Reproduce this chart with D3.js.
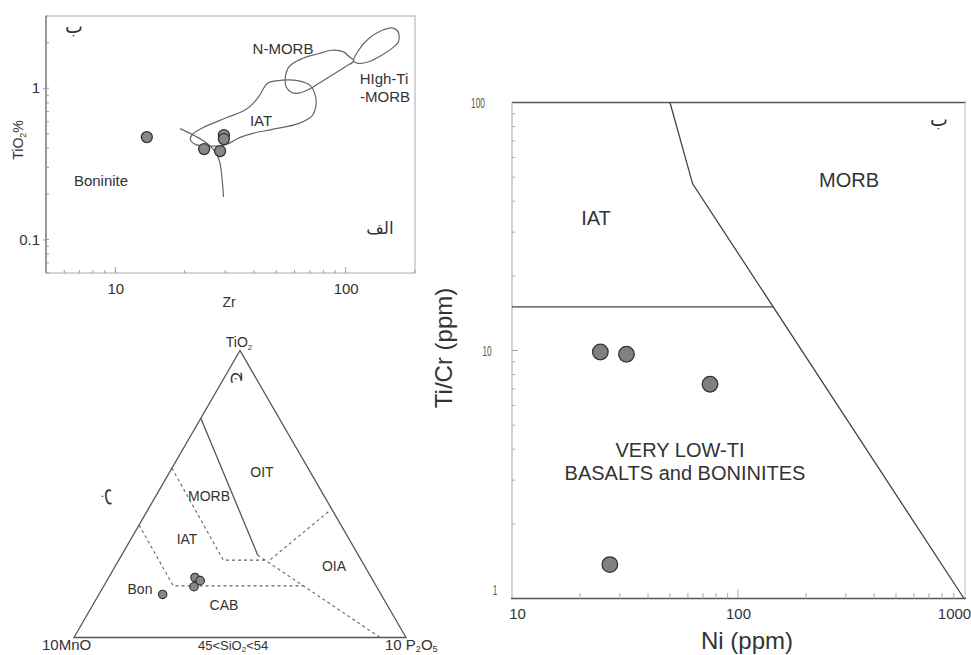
<!DOCTYPE html>
<html><head><meta charset="utf-8">
<script src="https://cdnjs.cloudflare.com/ajax/libs/d3/7.8.5/d3.min.js"></script>
<style>
body{margin:0;background:#fff;}
svg{display:block;font-family:Arial,"Liberation Sans",sans-serif;}
</style></head><body>
<svg id="c" width="971" height="655"></svg>
<script>
// ---------- Panel A : TiO2 vs Zr ----------
const zrSamples   = [13.7, 24.3, 28.5, 29.6, 29.6];
const tio2Samples = [0.475, 0.396, 0.384, 0.49, 0.461];
const zrTicks = [10, 100];
const tio2Ticks = [0.1, 1];
const iatFieldZr = [21.6,24.0,30.3,36.9,41.5,45.8,49.8,62.7,70.4,74.0,74.0,71.6,62.7,48.1,39.5,34.6,31.3,28.8,24.8,22.5,21.2];
const iatFieldTi = [0.495,0.548,0.637,0.722,0.860,1.078,1.117,1.117,1.036,0.882,0.740,0.659,0.585,0.534,0.503,0.471,0.433,0.416,0.416,0.422,0.455];
const nmorbFieldZr = [54.6,56.8,64.8,76.5,87.3,98.0,103.0,108.3,99.7,87.3,76.5,69.3,62.7,58.3,55.3];
const nmorbFieldTi = [1.134,1.386,1.571,1.694,1.781,1.737,1.627,1.516,1.386,1.222,1.078,0.985,0.928,0.937,1.015];
const hitiFieldZr = [108.3,113.8,125.7,143.4,158.4,169.2,169.2,158.4,143.4,125.7,113.8];
const hitiFieldTi = [1.516,1.781,2.122,2.406,2.504,2.347,2.018,1.826,1.652,1.494,1.457];
const boninLineZr = [19.1,22.5,25.3,27.4,28.4,29.5];
const boninLineTi = [0.540,0.478,0.426,0.372,0.324,0.191];

// ---------- Panel B : ternary TiO2 - 10MnO - 10P2O5 ----------
const ternTiO2 = [0.209, 0.198, 0.177, 0.150];
const ternMnO  = [0.531, 0.521, 0.550, 0.658];
const ternP2O5 = [0.260, 0.281, 0.273, 0.192];
// boundaries as [TiO2, MnO, P2O5] fractions
const solidOIT   = [[0.764,0.236,0.0],[0.287,0.303,0.410]];
const dashOIA    = [[0.438,0.015,0.547],[0.2645,0.2834,0.4521]];
const dashCAB    = [[0.287,0.303,0.410],[0.0,0.078,0.922]];
const dashMorbIat= [[0.590,0.410,0.0],[0.2697,0.4155,0.3148],[0.2697,0.2834,0.4469]];
const dashIatBon = [[0.392,0.608,0.0],[0.18,0.611,0.209],[0.18,0.219,0.601]];

// ---------- Panel C : Ti/Cr vs Ni ----------
const niSamples   = [24.6, 32.1, 75.2, 27.1];
const ticrSamples = [9.86, 9.66, 7.31, 1.37];
const niTicks = [10, 100, 1000];
const ticrTicks = [1, 10, 100];
const morbLineNi   = [50, 63, 1000];
const morbLineTiCr = [100, 47, 1];
const iatLineNi    = [10, 143];
const iatLineTiCr  = [15, 15];

const svg = d3.select("#c");
const LINE = "#555";

function minorVals(lo, hi){
  const out=[];
  for(let e=Math.floor(Math.log10(lo)); e<=Math.ceil(Math.log10(hi)); e++){
    for(let k=1;k<10;k++){const v=k*Math.pow(10,e); if(v>=lo*0.999 && v<=hi*1.001) out.push(v);}
  }
  return out;
}

// ===== Panel A =====
{
  const x = d3.scaleLog().domain([5,200]).range([46,415]);
  const y = d3.scaleLog().domain([0.06,3]).range([273,16]);
  const g = svg.append("g");
  g.append("rect").attr("x",46).attr("y",16).attr("width",369).attr("height",257)
   .attr("fill","none").attr("stroke","#aaa").attr("stroke-width",1);
  g.append("line").attr("x1",46).attr("x2",46).attr("y1",16).attr("y2",273).attr("stroke","#999").attr("stroke-width",2);
  g.selectAll(".mx").data(minorVals(5,200)).enter().append("line")
    .attr("x1",d=>x(d)).attr("x2",d=>x(d)).attr("y1",273).attr("y2",d=>[10,100].includes(d)?267:270)
    .attr("stroke","#999");
  g.selectAll(".my").data(minorVals(0.06,3)).enter().append("line")
    .attr("y1",d=>y(d)).attr("y2",d=>y(d)).attr("x1",46).attr("x2",49).attr("stroke","#999");
  const ax = d3.axisBottom(x).tickValues(zrTicks).tickFormat(d3.format("d")).tickSize(0).tickPadding(10);
  const gx = g.append("g").attr("transform","translate(0,273)").call(ax);
  gx.select(".domain").remove();
  gx.selectAll("text").attr("font-size",15).attr("fill","#333").attr("font-family","Arial");
  const ay = d3.axisLeft(y).tickValues(tio2Ticks).tickFormat(d=>d<1?"0.1":"1").tickSize(3).tickPadding(3);
  const gy = g.append("g").attr("transform","translate(46,0)").call(ay);
  gy.select(".domain").remove();
  gy.selectAll("line").attr("stroke","#999");
  gy.selectAll("text").attr("font-size",15).attr("fill","#333").attr("font-family","Arial");
  g.append("text").attr("x",229).attr("y",307).attr("text-anchor","middle").attr("font-size",14).attr("fill","#333").text("Zr");
  const yl = g.append("text").attr("transform","translate(23,140) rotate(-90)").attr("text-anchor","middle").attr("font-size",14).attr("fill","#333");
  yl.append("tspan").text("TiO");
  yl.append("tspan").attr("font-size",9).attr("dy",3).text("2");
  yl.append("tspan").attr("dy",-3).text("%");

  const line = d3.line().x(d=>x(d[0])).y(d=>y(d[1])).curve(d3.curveCatmullRomClosed.alpha(0.5));
  const open = d3.line().x(d=>x(d[0])).y(d=>y(d[1])).curve(d3.curveCatmullRom.alpha(0.5));
  const fields = [[iatFieldZr,iatFieldTi],[nmorbFieldZr,nmorbFieldTi],[hitiFieldZr,hitiFieldTi]];
  fields.forEach(f=>{
    g.append("path").attr("d",line(d3.zip(f[0],f[1]))).attr("fill","none").attr("stroke","#666").attr("stroke-width",1.2);
  });
  g.append("path").attr("d",open(d3.zip(boninLineZr,boninLineTi))).attr("fill","none").attr("stroke","#666").attr("stroke-width",1.2);

  g.selectAll(".pt").data(d3.zip(zrSamples,tio2Samples)).enter().append("circle")
    .attr("cx",d=>x(d[0])).attr("cy",d=>y(d[1])).attr("r",5.5)
    .attr("fill","#888").attr("stroke","#333").attr("stroke-width",1.3);

  const lab = (t,xx,yy,fs,anchor)=>g.append("text").attr("x",xx).attr("y",yy).attr("font-size",fs||15)
    .attr("text-anchor",anchor||"middle").attr("fill","#333").text(t);
  lab("N-MORB",283,54);
  lab("HIgh-Ti",384,84);
  lab("-MORB",385,102);
  lab("IAT",261,126);
  lab("Boninite",101,186);
  g.append("text").attr("x",380).attr("y",234).attr("text-anchor","middle").attr("font-size",17)
   .attr("font-family","DejaVu Sans").attr("fill","#333").text("الف");
  g.append("text").attr("x",74).attr("y",33).attr("text-anchor","middle").attr("font-size",19)
   .attr("font-family","DejaVu Sans").attr("fill","#333").text("ب");
}

// ===== Panel B : ternary =====
{
  const px = d3.scaleLinear().domain([0,1]).range([74,406]);
  const py = d3.scaleLinear().domain([0,1]).range([637.5,350.5]);
  const P = (t,m,p)=>[px(p + t/2), py(t)];
  const g = svg.append("g");
  const tri = [P(1,0,0),P(0,1,0),P(0,0,1)];
  g.append("path").attr("d",d3.line()(tri)+"Z").attr("fill","none").attr("stroke",LINE).attr("stroke-width",1.3);
  const ln = d3.line();
  g.append("path").attr("d",ln(solidOIT.map(d=>P(...d)))).attr("fill","none").attr("stroke",LINE).attr("stroke-width",1.3);
  [dashOIA,dashCAB,dashMorbIat,dashIatBon].forEach(b=>{
    g.append("path").attr("d",ln(b.map(d=>P(...d)))).attr("fill","none").attr("stroke","#666")
      .attr("stroke-width",1.1).attr("stroke-dasharray","3,3");
  });
  g.selectAll(".tp").data(d3.zip(ternTiO2,ternMnO,ternP2O5)).enter().append("circle")
    .attr("cx",d=>P(...d)[0]).attr("cy",d=>P(...d)[1]).attr("r",4.2)
    .attr("fill","#888").attr("stroke","#333").attr("stroke-width",1.2);
  const lab = (t,xx,yy,fs,anchor)=>g.append("text").attr("x",xx).attr("y",yy).attr("font-size",fs||14)
    .attr("text-anchor",anchor||"middle").attr("fill","#333").text(t);
  lab("OIT",262,477); lab("MORB",209,501); lab("IAT",187,544); lab("OIA",334,571);
  lab("Bon",140,594); lab("CAB",224,610);
  lab("10MnO",42,650,15,"start");
  const t1 = g.append("text").attr("x",239).attr("y",347).attr("text-anchor","middle").attr("font-size",14).attr("fill","#333");
  t1.append("tspan").text("TiO"); t1.append("tspan").attr("font-size",8).attr("dy",3).text("2");
  const t2 = g.append("text").attr("x",198).attr("y",650).attr("font-size",13).attr("fill","#333");
  t2.append("tspan").text("45<SiO"); t2.append("tspan").attr("font-size",8).attr("dy",2).text("2");
  t2.append("tspan").attr("dy",-2).text("<54");
  const t3 = g.append("text").attr("x",385).attr("y",650).attr("font-size",15).attr("fill","#333");
  t3.append("tspan").text("10 P"); t3.append("tspan").attr("font-size",9).attr("dy",2).text("2");
  t3.append("tspan").attr("dy",-2).text("O"); t3.append("tspan").attr("font-size",9).attr("dy",2).text("5");
  g.append("text").attr("transform","translate(240,377) rotate(90)").attr("text-anchor","middle").attr("dominant-baseline","middle")
   .attr("font-size",18).attr("font-family","DejaVu Sans").attr("fill","#333").text("ج");
  g.append("text").attr("transform","translate(110,497) rotate(90)").attr("text-anchor","middle").attr("dominant-baseline","middle")
   .attr("font-size",19).attr("font-family","DejaVu Sans").attr("fill","#333").text("ب");
}

// ===== Panel C : Ti/Cr vs Ni =====
{
  const x = d3.scaleLog().domain([10,1000]).range([512,964]);
  const y = d3.scaleLog().domain([1,100]).range([598.5,102.5]);
  const g = svg.append("g");
  g.append("line").attr("x1",512).attr("x2",966).attr("y1",102.5).attr("y2",102.5).attr("stroke",LINE).attr("stroke-width",1.3);
  g.append("line").attr("x1",512).attr("x2",512).attr("y1",102.5).attr("y2",598.5).attr("stroke","#bbb").attr("stroke-width",1.3);
  g.append("line").attr("x1",965).attr("x2",965).attr("y1",102.5).attr("y2",598.5).attr("stroke","#ccc").attr("stroke-width",1.3);
  g.append("line").attr("x1",511).attr("x2",966).attr("y1",598.5).attr("y2",598.5).attr("stroke",LINE).attr("stroke-width",1.5);
  g.selectAll(".mx").data(minorVals(10,1000).filter(d=>d>10&&d<1000)).enter().append("line")
    .attr("x1",d=>x(d)).attr("x2",d=>x(d)).attr("y1",598.5).attr("y2",d=>d===100?589:593)
    .attr("stroke","#aaa");
  g.selectAll(".my").data(minorVals(1,100).filter(d=>d>1&&d<100)).enter().append("line")
    .attr("y1",d=>y(d)).attr("y2",d=>y(d)).attr("x1",512).attr("x2",d=>d===10?518:515).attr("stroke","#aaa");
  const ax = d3.axisBottom(x).tickValues(niTicks).tickFormat(d3.format("d")).tickSize(0).tickPadding(10);
  const gx = g.append("g").attr("transform","translate(0,598.5)").call(ax);
  gx.select(".domain").remove();
  gx.selectAll("text").attr("font-size",15).attr("fill","#333").attr("font-family","Arial");
  gx.selectAll(".tick").filter(d=>d===10).select("text").attr("dx",5);
  gx.selectAll(".tick").filter(d=>d===1000).select("text").attr("dx",-10);
  const ay = d3.axisLeft(y).tickValues(ticrTicks).tickFormat(d3.format("d")).tickSize(0).tickPadding(0);
  const gy = g.append("g").call(ay);
  gy.select(".domain").remove();
  gy.selectAll(".tick text").attr("font-size",15).attr("fill","#555").attr("font-family","Arial")
    .attr("text-anchor","middle")
    .attr("transform",function(d){return `translate(${d===100?478:d===10?487:495},${d===1?-9:0}) scale(0.55,1)`;})
    .attr("x",0);
  g.selectAll(".pt").data(d3.zip(niSamples,ticrSamples)).enter().append("circle")
    .attr("cx",d=>x(d[0])).attr("cy",d=>y(d[1])).attr("r",7.8)
    .attr("fill","#808080").attr("stroke","#333").attr("stroke-width",1.3);
  const ln = d3.line().x(d=>x(d[0])).y(d=>y(d[1]));
  g.append("path").attr("d",ln(d3.zip(morbLineNi,morbLineTiCr))).attr("fill","none").attr("stroke","#444").attr("stroke-width",1.3);
  g.append("path").attr("d",ln(d3.zip(iatLineNi,iatLineTiCr))).attr("fill","none").attr("stroke","#444").attr("stroke-width",1.3);
  const lab = (t,xx,yy,fs)=>g.append("text").attr("x",xx).attr("y",yy).attr("font-size",fs||20)
    .attr("text-anchor","middle").attr("fill","#333").text(t);
  lab("IAT",596,225); lab("MORB",849,187);
  lab("VERY LOW-TI",680,457); lab("BASALTS and BONINITES",685,480);
  lab("Ni (ppm)",747,649,24);
  g.append("text").attr("transform","translate(452,348) rotate(-90)").attr("text-anchor","middle")
   .attr("font-size",24).attr("fill","#333").text("Ti/Cr (ppm)");
  g.append("text").attr("x",939).attr("y",126).attr("text-anchor","middle").attr("font-size",19)
   .attr("font-family","DejaVu Sans").attr("fill","#333").text("ب");
}
</script></body></html>
